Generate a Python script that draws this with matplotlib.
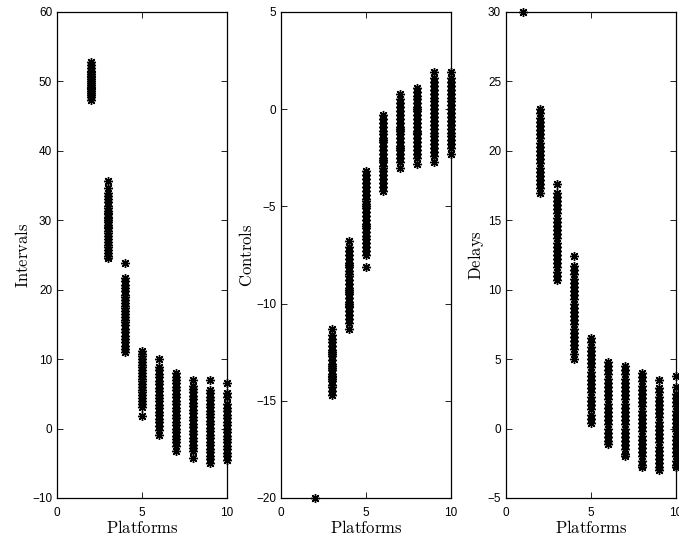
import matplotlib
matplotlib.use("Agg")
import matplotlib.pyplot as plt

plt.rcParams['mathtext.fontset'] = 'cm'
plt.rcParams['font.family'] = ['Liberation Sans', 'DejaVu Sans']

platforms = [1, 2, 3, 4, 5, 6, 7, 8, 9, 10]

intervals = {
    2: [52.8, 52.3, 51.9, 51.5, 51.1, 50.8, 50.4, 50.1, 49.8, 49.5, 49.2, 48.9, 48.6, 48.3, 48.0, 47.7, 47.3, 50.6, 49.0, 51.3],
    3: [35.7, 34.6, 34.0, 33.5, 33.0, 32.6, 32.1, 31.7, 31.3, 30.9, 30.5, 30.1, 29.7, 29.3, 28.9, 28.5, 28.1, 27.7, 27.3, 26.9, 26.5, 26.1, 25.7, 25.3, 24.9, 24.5, 30.3, 29.0, 31.0],
    4: [23.8, 21.7, 21.2, 20.7, 20.2, 19.8, 19.3, 18.9, 18.5, 18.1, 17.7, 17.3, 16.9, 16.5, 16.1, 15.7, 15.3, 14.9, 14.4, 13.9, 13.4, 12.9, 12.4, 11.9, 11.4, 11.0],
    5: [11.2, 10.8, 10.4, 10.0, 9.6, 9.2, 8.8, 8.4, 8.0, 7.6, 7.2, 6.8, 6.4, 6.0, 5.6, 5.2, 4.8, 4.4, 4.0, 3.6, 3.1, 1.8],
    6: [10.0, 8.9, 8.4, 7.9, 7.4, 6.9, 6.4, 5.9, 5.4, 4.9, 4.4, 3.9, 3.4, 2.9, 2.4, 1.9, 1.4, 0.9, 0.4, -0.2, -0.9],
    7: [8.0, 7.5, 7.0, 6.5, 6.0, 5.5, 5.0, 4.5, 4.0, 3.5, 3.0, 2.5, 2.0, 1.5, 1.0, 0.5, 0.0, -0.5, -1.0, -1.5, -2.0, -2.5, -3.2],
    8: [7.0, 6.2, 5.7, 5.2, 4.7, 4.2, 3.7, 3.2, 2.7, 2.2, 1.7, 1.2, 0.7, 0.2, -0.3, -0.8, -1.3, -1.8, -2.3, -2.8, -3.3, -4.2],
    9: [7.0, 5.6, 5.1, 4.6, 4.1, 3.6, 3.1, 2.6, 2.1, 1.6, 1.1, 0.6, 0.1, -0.4, -0.9, -1.4, -1.9, -2.4, -2.9, -3.4, -3.9, -4.4, -4.9],
    10: [6.5, 5.1, 4.6, 3.5, 3.0, 2.5, 2.0, 1.5, 1.0, 0.5, 0.0, -0.5, -1.0, -1.5, -2.0, -2.5, -3.0, -3.5, -4.0, -4.5],
}

controls = {
    2: [-20.0],
    3: [-11.3, -11.6, -11.8, -12.0, -12.2, -12.4, -12.5, -12.7, -12.9, -13.1, -13.2, -13.4, -13.6, -13.7, -13.9, -14.0, -14.2, -14.3, -14.5, -14.7, -12.6, -13.3, -13.8],
    4: [-6.8, -7.1, -7.3, -7.5, -7.7, -7.9, -8.1, -8.3, -8.5, -8.6, -8.8, -9.0, -9.2, -9.4, -9.5, -9.7, -9.9, -10.1, -10.2, -10.4, -10.6, -10.8, -11.0, -11.3, -8.0, -9.3, -10.0],
    5: [-3.2, -3.4, -3.6, -3.8, -4.0, -4.2, -4.4, -4.6, -4.7, -4.9, -5.1, -5.3, -5.5, -5.7, -5.9, -6.1, -6.3, -6.5, -6.7, -6.9, -7.1, -7.3, -7.5, -8.1, -5.0, -6.0],
    6: [-0.3, -0.5, -0.7, -0.9, -1.1, -1.3, -1.5, -1.7, -1.9, -2.1, -2.3, -2.5, -2.7, -2.9, -3.0, -3.2, -3.4, -3.6, -3.8, -4.0, -4.2, -1.6, -2.6],
    7: [0.8, 0.5, 0.3, 0.1, -0.1, -0.3, -0.5, -0.7, -0.9, -1.1, -1.3, -1.5, -1.7, -1.9, -2.1, -2.3, -2.5, -2.7, -3.0, -1.0, -2.0],
    8: [1.1, 0.9, 0.7, 0.5, 0.3, 0.1, -0.1, -0.3, -0.5, -0.7, -0.9, -1.1, -1.3, -1.5, -1.7, -1.9, -2.1, -2.3, -2.5, -2.8, 0.0, -1.2],
    9: [1.9, 1.6, 1.4, 1.2, 1.0, 0.8, 0.6, 0.4, 0.2, 0.0, -0.2, -0.4, -0.6, -0.8, -1.0, -1.2, -1.4, -1.6, -1.8, -2.0, -2.2, -2.4, -2.7],
    10: [1.9, 1.6, 1.4, 1.2, 1.0, 0.8, 0.6, 0.4, 0.2, 0.0, -0.2, -0.4, -0.6, -0.8, -1.0, -1.2, -1.4, -1.6, -1.8, -2.0, -2.3],
}

delays = {
    1: [30.0],
    2: [23.0, 22.7, 22.4, 22.1, 21.8, 21.5, 21.2, 20.9, 20.6, 20.3, 20.0, 19.7, 19.4, 19.1, 18.8, 18.5, 18.2, 17.9, 17.6, 17.3, 17.0],
    3: [17.6, 17.0, 16.7, 16.4, 16.1, 15.8, 15.5, 15.2, 14.9, 14.6, 14.3, 14.0, 13.7, 13.4, 13.1, 12.8, 12.5, 12.2, 11.9, 11.6, 11.3, 11.0, 10.7],
    4: [12.4, 11.7, 11.4, 11.1, 10.8, 10.5, 10.2, 9.9, 9.6, 9.3, 9.0, 8.7, 8.4, 8.1, 7.8, 7.5, 7.2, 6.9, 6.6, 6.3, 6.0, 5.7, 5.4, 5.0],
    5: [6.5, 6.2, 5.9, 5.6, 5.3, 5.0, 4.7, 4.4, 4.1, 3.8, 3.5, 3.2, 2.9, 2.6, 2.3, 2.0, 1.7, 1.4, 1.0, 0.7, 0.4],
    6: [4.8, 4.5, 4.2, 3.9, 3.6, 3.3, 3.0, 2.7, 2.4, 2.1, 1.8, 1.5, 1.2, 0.9, 0.6, 0.3, 0.0, -0.3, -0.6, -0.9, -1.1],
    7: [4.5, 4.2, 3.9, 3.6, 3.3, 3.0, 2.7, 2.4, 2.1, 1.8, 1.5, 1.2, 0.9, 0.6, 0.3, 0.0, -0.3, -0.6, -0.9, -1.2, -1.5, -1.8, -2.0],
    8: [4.0, 3.7, 3.4, 3.1, 2.8, 2.5, 2.2, 1.9, 1.6, 1.3, 1.0, 0.7, 0.4, 0.1, -0.2, -0.5, -0.8, -1.1, -1.4, -1.7, -2.0, -2.3, -2.6, -2.8],
    9: [3.5, 2.9, 2.6, 2.3, 2.0, 1.7, 1.4, 1.1, 0.8, 0.5, 0.2, -0.1, -0.4, -0.7, -1.0, -1.3, -1.6, -1.9, -2.2, -2.5, -2.8, -3.0],
    10: [3.8, 3.0, 2.5, 2.2, 1.9, 1.6, 1.3, 1.0, 0.7, 0.4, 0.1, -0.2, -0.5, -0.8, -1.1, -1.4, -1.7, -2.0, -2.3, -2.6, -2.8],
}

panels = [
    (intervals, 'Intervals', (-10, 60), [-10, 0, 10, 20, 30, 40, 50, 60]),
    (controls, 'Controls', (-20, 5), [-20, -15, -10, -5, 0, 5]),
    (delays, 'Delays', (-5, 30), [-5, 0, 5, 10, 15, 20, 25, 30]),
]
x_ticks = [0, 5, 10]

fig = plt.figure(figsize=(6.79, 5.43), dpi=100)
lefts = [57 / 679, 281 / 679, 506 / 679]
for (data, ylabel, ylim, yticks), left in zip(panels, lefts):
    ax = fig.add_axes([left, 45 / 543, 170 / 679, 486 / 543])
    for p in platforms:
        if p in data:
            vals = data[p]
            ax.plot([p] * len(vals), vals, linestyle='none', marker=(8, 2, 0),
                    color='black', markersize=6.5, markeredgewidth=1.0,
                    clip_on=False)
    ax.set_xlim(0, 10)
    ax.set_ylim(*ylim)
    ax.set_xticks(x_ticks)
    ax.set_yticks(yticks)
    ax.set_yticklabels([str(t).replace('-', '\u2212') for t in yticks])
    ax.tick_params(direction='in', top=True, right=True, length=4,
                   width=0.6, labelsize=8.5)
    ax.tick_params(axis='x', pad=6.5)
    ax.tick_params(axis='y', pad=3.5)
    for s in ax.spines.values():
        s.set_linewidth(0.9)
    ax.set_xlabel(r'$\mathrm{Platforms}$', fontsize=12, labelpad=0)
    ax.set_ylabel(r'$\mathrm{' + ylabel + '}$', fontsize=12, labelpad=1)

fig.savefig('out.png', dpi=100)
